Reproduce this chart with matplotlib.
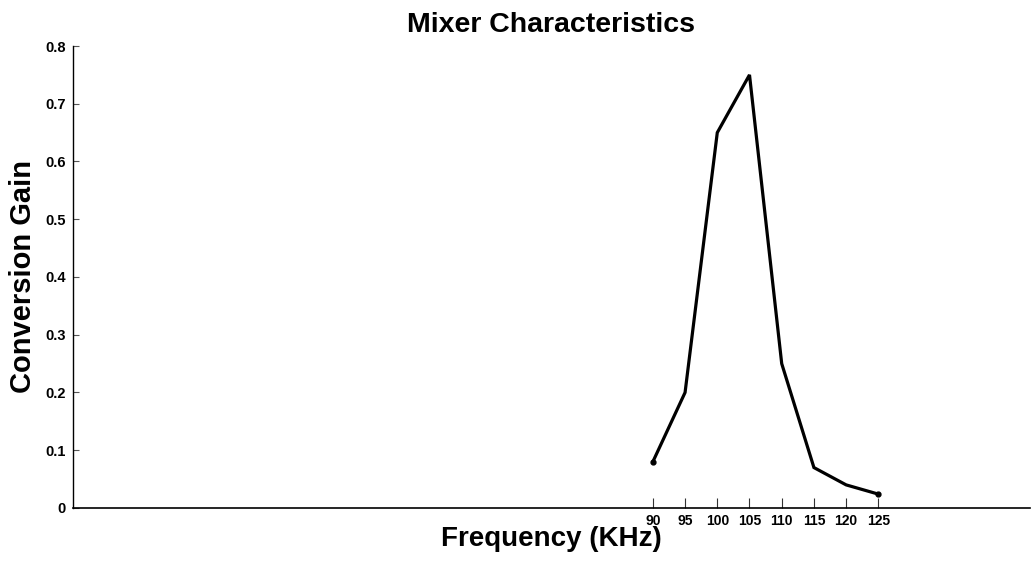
import matplotlib
matplotlib.use("Agg")
import matplotlib.pyplot as plt

freq = [90, 95, 100, 105, 110, 115, 120, 125]
gain = [0.08, 0.2, 0.65, 0.75, 0.25, 0.07, 0.04, 0.024]
yticks = [0, 0.1, 0.2, 0.3, 0.4, 0.5, 0.6, 0.7, 0.8]
ytick_labels = ['0', '0.1', '0.2', '0.3', '0.4', '0.5', '0.6', '0.7', '0.8']

plt.rcParams['font.family'] = ['Liberation Sans', 'DejaVu Sans']
plt.rcParams['font.weight'] = 'bold'

fig = plt.figure(figsize=(10.31, 5.61), dpi=100)
ax = fig.add_axes([0.0708, 0.0945, 0.928, 0.8235])

ax.plot(freq, gain, color='black', lw=2.3, marker='o', markersize=3.5,
        markevery=[0, len(freq) - 1],
        solid_joinstyle='miter', solid_capstyle='round')

ax.set_xlim(0, 148.5)
ax.set_ylim(0, 0.8)
ax.set_xticks(freq)
ax.set_xticklabels([str(f) for f in freq], fontsize=10, fontweight='bold')
ax.set_yticks(yticks)
ax.set_yticklabels(ytick_labels, fontsize=10.5, fontweight='bold')
ax.tick_params(axis='x', direction='in', length=7, width=0.8, pad=4, color='#333333')
ax.tick_params(axis='y', direction='in', length=4, width=0.8, pad=5, color='#555555')

for s in ['top', 'right']:
    ax.spines[s].set_visible(False)
ax.spines['left'].set_linewidth(1.0)
ax.spines['bottom'].set_linewidth(1.2)

ax.set_title('Mixer Characteristics', fontsize=20.5, fontweight='bold', pad=10)
ax.set_xlabel('Frequency (KHz)', fontsize=20, fontweight='bold')
ax.xaxis.set_label_coords(0.5, -0.038)
ax.set_ylabel('Conversion Gain', fontsize=21, fontweight='bold', labelpad=6)

fig.savefig('out.png', dpi=100)
